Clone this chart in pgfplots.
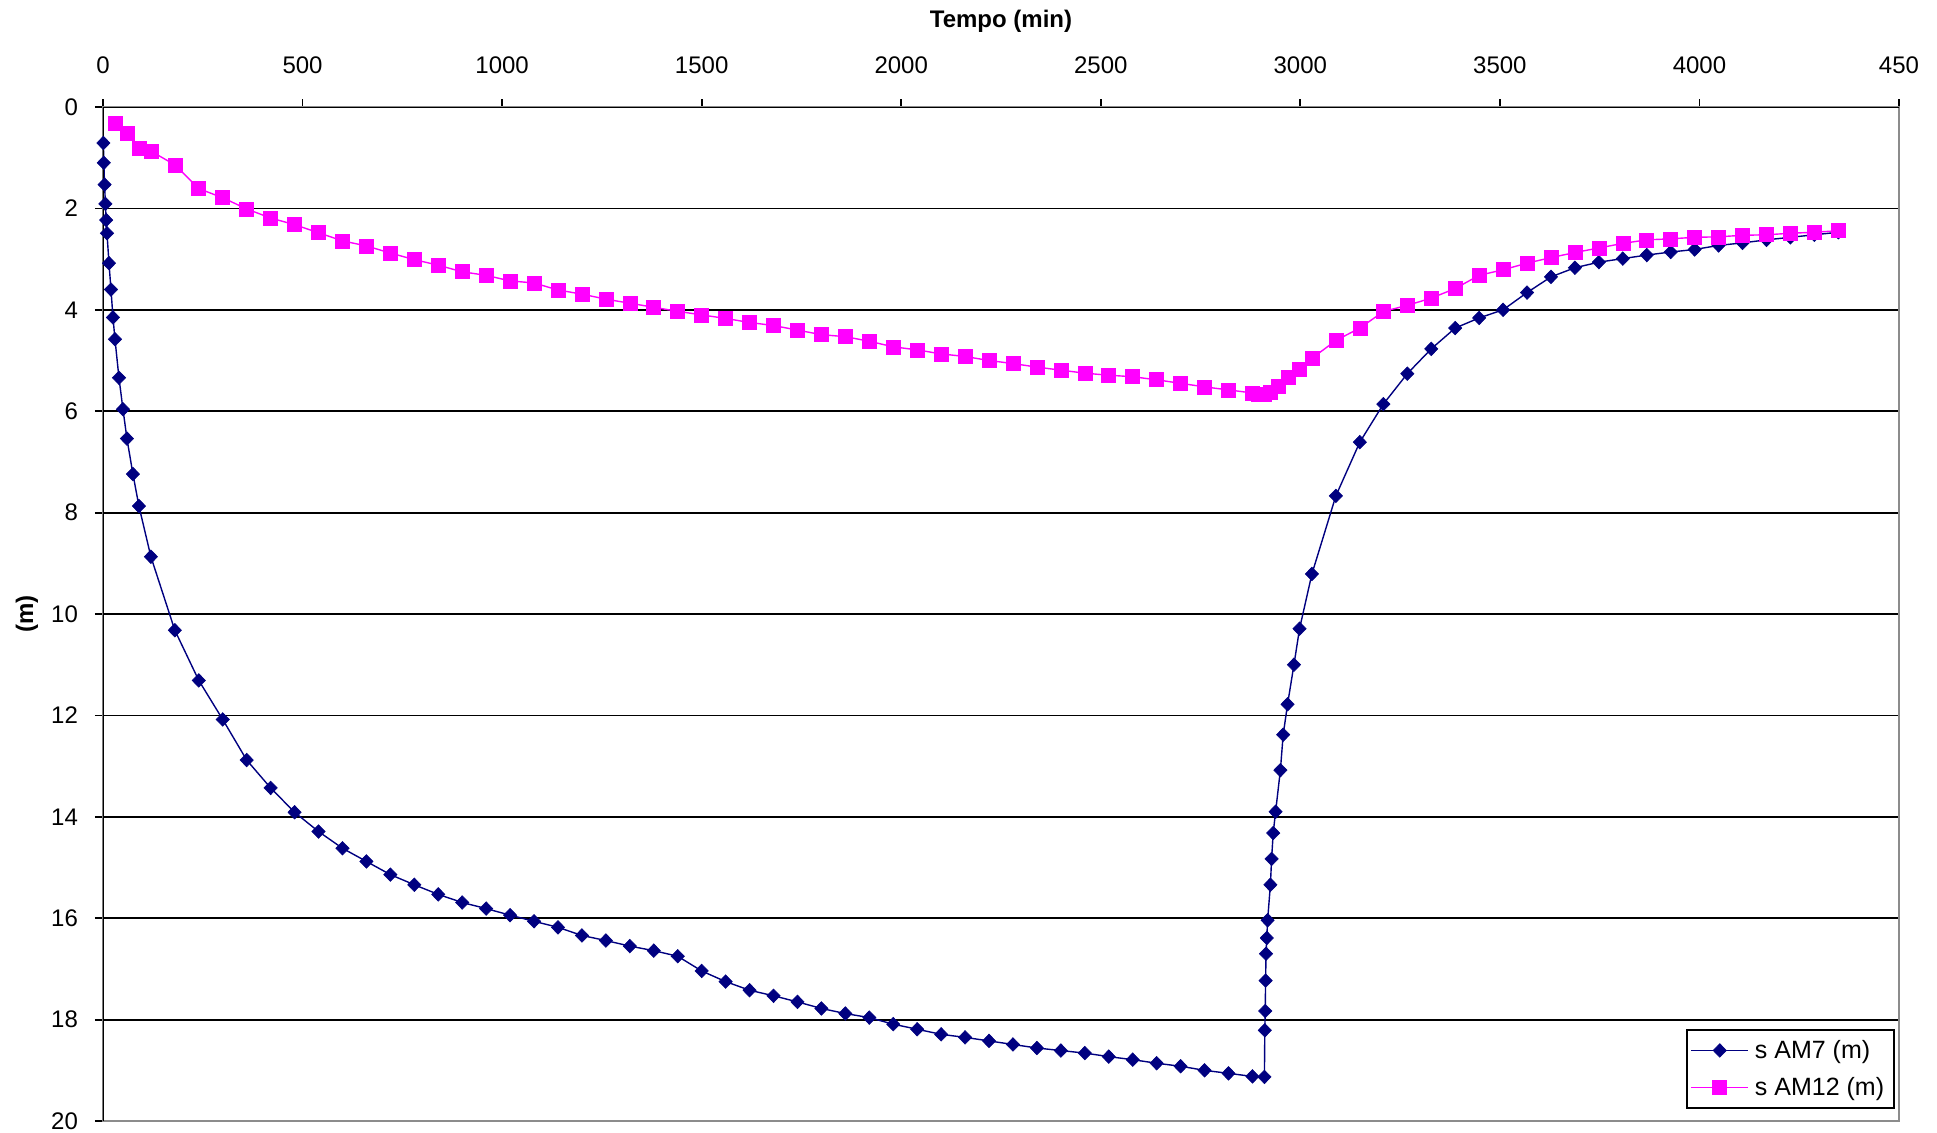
\documentclass[border=0pt]{standalone}
\usepackage{fontspec}
\setmainfont{Liberation Sans}
\usepackage{pgfplots}
\pgfplotsset{compat=1.18}
\definecolor{amnavy}{RGB}{0,0,128}
\definecolor{ammag}{RGB}{255,0,255}
\definecolor{bordergray}{RGB}{140,140,140}
\begin{document}
\begin{tikzpicture}
\begin{axis}[
  at={(0pt,0pt)}, anchor=south west,
  scale only axis, width=898pt, height=507pt,
  xmin=0, xmax=4500, ymin=0, ymax=20, y dir=reverse,
  xtick={0,500,1000,1500,2000,2500,3000,3500,4000,4500},
  xticklabels={0,500,1000,1500,2000,2500,3000,3500,4000,450},
  ytick={0,2,4,6,8,10,12,14,16,18,20},
  xtick pos=upper, xticklabel pos=upper, ytick pos=left,
  ymajorgrids, grid style={black, line width=0.9pt},
  tick align=outside, major tick length=4pt,
  tick style={black, line width=0.9pt},
  axis line style={bordergray, line width=0.9pt},
  /pgf/number format/assume math mode=true,
  ticklabel style={font=\fontsize{12}{14}\selectfont},
  xticklabel style={yshift=9pt},
  yticklabel style={xshift=-5pt},
  xlabel={Tempo (min)},
  xlabel style={at={(axis description cs:0.5,1)}, anchor=center, yshift=43pt, font=\fontsize{12}{14}\selectfont\bfseries},
  ylabel={(m)},
  ylabel style={at={(axis description cs:-0.0423,0.5)}, anchor=center, font=\fontsize{12}{14}\selectfont\bfseries},
  legend style={at={(axis description cs:1,0)}, anchor=south east, xshift=-2pt, yshift=6pt,
    draw=black, line width=0.9pt, font=\fontsize{12.5}{14}\selectfont, inner sep=2pt, row sep=2pt,
    nodes={inner sep=3pt}},
  legend cell align=left,
  legend image code/.code={\draw[mark repeat=2,mark phase=2,#1] plot coordinates {(0cm,0cm) (0.5cm,0cm) (1.0cm,0cm)};},
]
\addplot[color=amnavy, line width=0.7pt, mark=diamond*, mark size=3.4pt, mark options={fill=amnavy, draw=amnavy, line width=0.3pt, xscale=1.3}] coordinates {
(1,0.71) (2,1.10) (4,1.53) (6,1.91) (8,2.23) (10,2.49) (15,3.08) (20,3.60) (25,4.15) (30,4.58)
(40,5.34) (50,5.96) (60,6.54) (75,7.24) (90,7.87) (120,8.87) (180,10.32) (240,11.31) (300,12.08) (360,12.88)
(420,13.43) (480,13.91) (540,14.29) (600,14.62) (660,14.88) (720,15.14) (780,15.34) (840,15.53) (900,15.69) (960,15.81)
(1020,15.94) (1080,16.06) (1140,16.18) (1200,16.34) (1260,16.44) (1320,16.55) (1380,16.64) (1440,16.75) (1500,17.04) (1560,17.25)
(1620,17.42) (1680,17.53) (1740,17.65) (1800,17.78) (1860,17.88) (1920,17.96) (1980,18.09) (2040,18.19) (2100,18.29) (2160,18.35)
(2220,18.42) (2280,18.49) (2340,18.56) (2400,18.61) (2460,18.66) (2520,18.73) (2580,18.79) (2640,18.86) (2700,18.92) (2760,19.00)
(2820,19.06) (2880,19.12) (2910,19.13) (2911,18.21) (2912,17.83) (2913,17.23) (2914,16.70) (2916,16.39) (2918,16.04) (2925,15.34)
(2928,14.83) (2932,14.32) (2938,13.90) (2950,13.08) (2957,12.38) (2968,11.78) (2984,11.00) (2998,10.29) (3029,9.21) (3089,7.67)
(3149,6.61) (3208,5.86) (3268,5.26) (3328,4.77) (3388,4.36) (3448,4.16) (3508,4.00) (3568,3.66) (3628,3.35) (3688,3.17)
(3748,3.06) (3808,2.99) (3868,2.92) (3928,2.86) (3988,2.81) (4048,2.73) (4108,2.68) (4168,2.62) (4228,2.57) (4288,2.52)
(4348,2.47)
};
\addlegendentry{s AM7 (m)}
\addplot[color=ammag, line width=0.7pt, mark=square*, mark size=3.5pt, mark options={fill=ammag, draw=ammag, line width=0.3pt}] coordinates {
(30,0.32) (60,0.52) (90,0.81) (120,0.87) (180,1.14) (240,1.61) (300,1.79) (360,2.01) (420,2.19) (480,2.32)
(540,2.48) (600,2.64) (660,2.74) (720,2.88) (780,3.01) (840,3.12) (900,3.25) (960,3.32) (1020,3.43) (1080,3.47)
(1140,3.61) (1200,3.69) (1260,3.79) (1320,3.87) (1380,3.95) (1440,4.03) (1500,4.10) (1560,4.17) (1620,4.25) (1680,4.31)
(1740,4.40) (1800,4.49) (1860,4.53) (1920,4.62) (1980,4.73) (2040,4.79) (2100,4.87) (2160,4.92) (2220,5.00) (2280,5.06)
(2340,5.13) (2400,5.19) (2460,5.25) (2520,5.29) (2580,5.32) (2640,5.38) (2700,5.45) (2760,5.52) (2820,5.58) (2880,5.64)
(2895,5.67) (2910,5.67) (2925,5.62) (2945,5.50) (2970,5.33) (2998,5.18) (3030,4.95) (3090,4.60) (3149,4.36) (3209,4.03)
(3269,3.91) (3328,3.77) (3388,3.58) (3448,3.32) (3508,3.21) (3568,3.08) (3628,2.97) (3688,2.87) (3748,2.78) (3808,2.69)
(3868,2.62) (3928,2.60) (3988,2.57) (4048,2.56) (4108,2.53) (4168,2.52) (4228,2.49) (4288,2.47) (4348,2.44)
};
\addlegendentry{s AM12 (m)}
\draw[black, line width=0.9pt] (axis cs:0,0) -- (axis cs:4500,0);
\draw[black, line width=0.9pt] (axis cs:0,0) -- (axis cs:0,20);
\end{axis}
\pgfresetboundingbox
\path[use as bounding box] (-51.5pt,-5.5pt) rectangle (917pt,560.5pt);
\end{tikzpicture}
\end{document}
